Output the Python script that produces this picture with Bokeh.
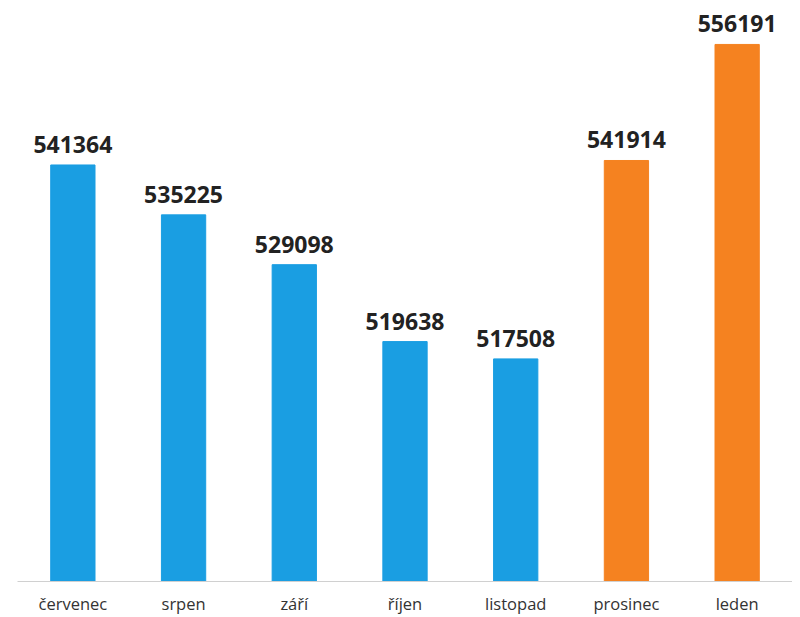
from bokeh.plotting import figure
from bokeh.models import ColumnDataSource, Range1d, LabelSet
from bokeh.core.properties import value
from bokeh.embed import file_html
from bokeh.resources import INLINE

months = ["červenec", "srpen", "září", "říjen", "listopad", "prosinec", "leden"]
values = [541364, 535225, 529098, 519638, 517508, 541914, 556191]
colors = ["#1a9ee2"] * 5 + ["#f58220"] * 2

src = ColumnDataSource(dict(x=months, top=values, color=colors,
                            label=[str(v) for v in values]))

p = figure(x_range=months, y_range=Range1d(490125, 560612),
           width=792, height=617, output_backend="svg", toolbar_location=None,
           min_border_left=17, min_border_right=0, min_border_top=8, min_border_bottom=20)
p.vbar(x="x", top="top", bottom=0, width=0.4, color="color", source=src)

labels = LabelSet(x="x", y="top", text="label", source=src, text_align="center",
                  text_baseline="bottom", y_offset=12, text_font_size="23px",
                  text_font_style="bold", text_font=value("Open Sans"), text_color="#222222")
p.add_layout(labels)

p.yaxis.visible = False
p.xgrid.visible = False
p.ygrid.visible = False
p.outline_line_color = None
p.xaxis.axis_line_color = "#d0d0d0"
p.xaxis.major_tick_line_color = None
p.xaxis.minor_tick_line_color = None
p.xaxis.major_label_text_font = "Open Sans"
p.xaxis.major_label_text_font_size = "16.5px"
p.xaxis.major_label_text_color = "#333333"
p.xaxis.major_label_standoff = 4
p.x_range.range_padding = 0.0

open("out.html", "w").write(file_html(p, INLINE))
